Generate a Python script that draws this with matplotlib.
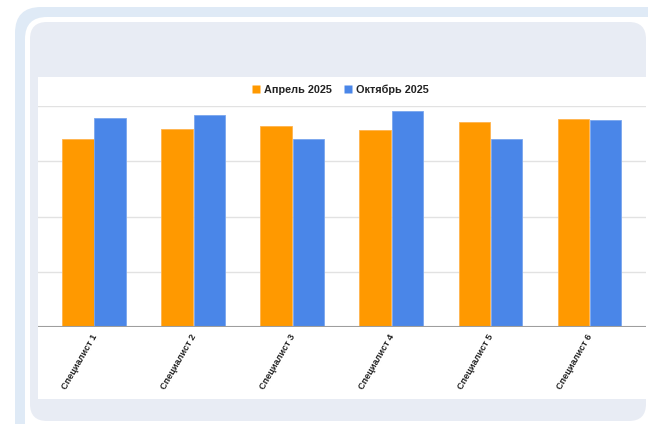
import matplotlib
matplotlib.use('Agg')
import matplotlib.pyplot as plt
import numpy as np
from matplotlib.patches import FancyBboxPatch, Rectangle
from matplotlib.lines import Line2D

plt.rcParams['font.family'] = ['Liberation Sans', 'DejaVu Sans']

# data
specialists = ['Специалист 1', 'Специалист 2', 'Специалист 3',
               'Специалист 4', 'Специалист 5', 'Специалист 6']
april_2025 = [85.0, 89.7, 90.9, 89.0, 92.8, 94.0]
october_2025 = [94.4, 95.8, 84.9, 97.7, 84.9, 93.7]
series_names = ['Апрель 2025', 'Октябрь 2025']

ORANGE = '#ff9900'
BLUE = '#4a86e8'

W, H = 648, 424
fig = plt.figure(figsize=(W / 100, H / 100), dpi=100)
fig.patch.set_facecolor('white')


def px_box(x0, y0, x1, y1, color, r=0, z=-10):
    # pixel coords with y from top
    if r > 0:
        p = FancyBboxPatch((x0 / 100, (H - y1) / 100), (x1 - x0) / 100, (y1 - y0) / 100,
                           boxstyle='round,pad=0,rounding_size=%f' % (r / 100),
                           transform=fig.dpi_scale_trans, facecolor=color,
                           edgecolor='none', zorder=z)
    else:
        p = Rectangle((x0 / 100, (H - y1) / 100), (x1 - x0) / 100, (y1 - y0) / 100,
                      transform=fig.dpi_scale_trans, facecolor=color,
                      edgecolor='none', zorder=z)
    fig.patches.append(p)


# background panels
px_box(15, 7, 700, 480, '#dfeaf6', r=26, z=-14)
px_box(25, 17, 690, 470, 'white', r=22, z=-13)
px_box(30, 22, 646, 421, '#e8ecf4', r=17, z=-12)
px_box(38, 77, 646, 399, 'white', z=-11)

# axes: white chart area x 38..646, plot y 106..327
ax = fig.add_axes([38 / W, (H - 327) / H, (646 - 38) / W, (327 - 106) / H])
ax.set_facecolor('none')

x = np.arange(len(specialists))
bw = 0.316
off = 0.163
ax.bar(x - off, april_2025, bw, color=ORANGE, edgecolor='#ffb44d', linewidth=0.6, zorder=3)
ax.bar(x + off, october_2025, bw, color=BLUE, edgecolor='#7aa6ee', linewidth=0.6, zorder=3)

ax.set_xlim((38 - 94) / 99.1, (646 - 94) / 99.1)
ax.set_ylim(0, 100)
ax.set_yticks([0, 25, 50, 75, 100])
ax.yaxis.grid(True, color='#e2e2e2', linewidth=1.0, zorder=0)
ax.set_yticklabels([])
ax.tick_params(axis='y', length=0)
ax.axhline(0, color='#9e9e9e', linewidth=1.5, zorder=4)
for s in ax.spines.values():
    s.set_visible(False)

ax.set_xticks(x - 0.03)
ax.set_xticklabels(specialists, rotation=60, ha='right', rotation_mode='anchor',
                   fontsize=6.6, fontweight='bold', color='#222222')
ax.tick_params(axis='x', length=0, pad=4)

handles = [Line2D([], [], marker='s', linestyle='none', markersize=5.8,
                  markerfacecolor=c, markeredgecolor='none') for c in (ORANGE, BLUE)]
fig.legend(handles, series_names, loc='center', bbox_to_anchor=(340 / W, (H - 90) / H),
           ncol=2, frameon=False, prop={'weight': 'bold', 'size': 7.8},
           handletextpad=0.3, columnspacing=1.0, handlelength=0.9, labelcolor='#222222')

fig.savefig('out.png', dpi=100, facecolor='white')
